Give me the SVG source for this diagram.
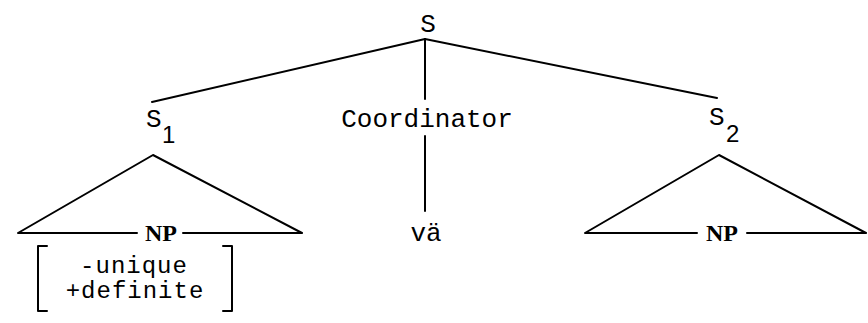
<svg xmlns="http://www.w3.org/2000/svg" width="868" height="323" viewBox="0 0 868 323">
<style>
.ln{stroke:#000;stroke-width:2;fill:none;stroke-linecap:round;stroke-linejoin:round}
.m{font-family:"Liberation Mono","DejaVu Sans Mono",monospace;font-size:26px;fill:#000}
.f{font-family:"Liberation Mono","DejaVu Sans Mono",monospace;font-size:24px;letter-spacing:1px;fill:#000}
.sub{font-family:"Liberation Sans",Arial,sans-serif;font-size:24px;fill:#000}
.np{font-family:"Liberation Serif","Times New Roman",serif;font-size:24px;font-weight:bold;fill:#000}
</style>
<rect width="868" height="323" fill="#fff"/>
<g id="connectors">
<line class="ln" x1="425" y1="39" x2="152" y2="102"/>
<line class="ln" x1="425" y1="39" x2="717" y2="98"/>
<line class="ln" x1="425" y1="39" x2="425" y2="99"/>
<line class="ln" x1="425" y1="136" x2="425" y2="211"/>
</g>
<g id="S"><text class="m" x="428" y="32" text-anchor="middle">S</text></g>
<g id="S1"><text class="m" x="146" y="127">S</text><text class="sub" x="162" y="143">1</text></g>
<g id="Coordinator"><text class="m" x="427" y="127" text-anchor="middle">Coordinator</text></g>
<g id="S2"><text class="m" x="709" y="125">S</text><text class="sub" x="726" y="142">2</text></g>
<g id="NP1">
<path class="ln" d="M137 233 H18 L153 155 L302 233 H183"/>
<text class="np" x="161" y="241" text-anchor="middle">NP</text>
<path class="ln" d="M47 246 H38 V311 H47 M223 246 H232 V311 H223"/>
<text class="f" x="134" y="273" text-anchor="middle">-unique</text>
<text class="f" x="135" y="298" text-anchor="middle">+definite</text>
</g>
<g id="va"><text class="m" x="426" y="241" text-anchor="middle">vä</text></g>
<g id="NP2">
<path class="ln" d="M697 233 H585 L719 155 L866 233 H747"/>
<text class="np" x="722" y="241" text-anchor="middle">NP</text>
</g>
</svg>
